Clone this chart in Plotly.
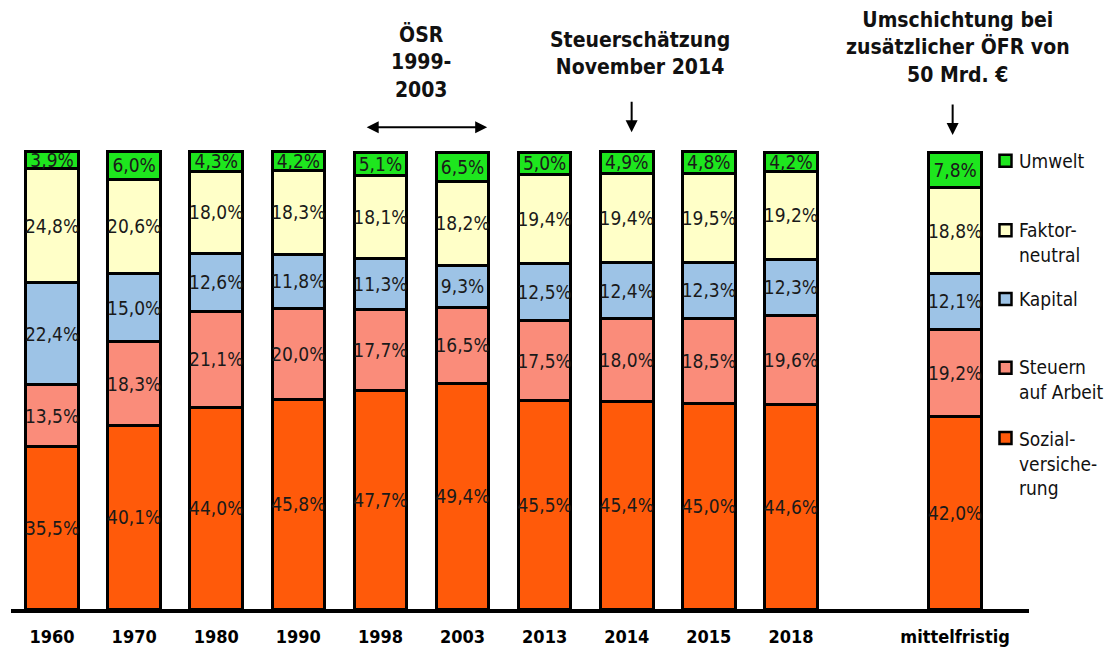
import plotly.graph_objects as go

categories = ["1960", "1970", "1980", "1990", "1998", "2003", "2013", "2014", "2015", "2018", "mittelfristig"]
x_pos = [0, 1, 2, 3, 4, 5, 6, 7, 8, 9, 11]

sozial = [35.5, 40.1, 44.0, 45.8, 47.7, 49.4, 45.5, 45.4, 45.0, 44.6, 42.0]
arbeit = [13.5, 18.3, 21.1, 20.0, 17.7, 16.5, 17.5, 18.0, 18.5, 19.6, 19.2]
kapital = [22.4, 15.0, 12.6, 11.8, 11.3, 9.3, 12.5, 12.4, 12.3, 12.3, 12.1]
faktor = [24.8, 20.6, 18.0, 18.3, 18.1, 18.2, 19.4, 19.4, 19.5, 19.2, 18.8]
umwelt = [3.9, 6.0, 4.3, 4.2, 5.1, 6.5, 5.0, 4.9, 4.8, 4.2, 7.8]

series_names = ["Sozial-<br>versiche-<br>rung", "Steuern<br>auf Arbeit", "Kapital", "Faktor-<br>neutral", "Umwelt"]
series_values = [sozial, arbeit, kapital, faktor, umwelt]
series_colors = ["#ff5a0a", "#fa8c7a", "#9dc3e6", "#ffffc8", "#1ee61e"]

FONT = "DejaVu Sans Condensed, DejaVu Sans, sans-serif"

def fmt(v):
    return f"{v:.1f}".replace(".", ",") + "%"

fig = go.Figure()
for name, vals, col in zip(series_names, series_values, series_colors):
    fig.add_trace(go.Bar(
        x=x_pos, y=vals, name=name,
        marker=dict(color=col, line=dict(color="black", width=3)),
        width=0.64,
        text=[fmt(v) for v in vals],
        textposition="inside",
        insidetextanchor="middle",
        textangle=0,
        constraintext="none",
        textfont=dict(family=FONT, size=19, color="#1a1a1a"),
        showlegend=False,
    ))

fig.update_layout(
    barmode="stack",
    width=1117, height=648,
    margin=dict(l=3, r=96, t=139, b=47),
    paper_bgcolor="white", plot_bgcolor="white",
    xaxis=dict(
        range=[-0.5, 11.9],
        tickmode="array", tickvals=x_pos, ticktext=categories,
        showline=True, linecolor="black", linewidth=4,
        showgrid=False, zeroline=False, ticks="",
        ticklabelstandoff=8,
        tickfont=dict(family=FONT, size=18, color="black", weight="bold"),
    ),
    yaxis=dict(range=[0, 101], visible=False, showgrid=False, zeroline=False),
    font=dict(family=FONT),
)

# Top annotations
top_font = dict(family=FONT, size=21, color="#111111", weight="bold")
fig.add_annotation(x=4.49, xref="x", y=1.184, yref="paper",
                   text="ÖSR<br>1999-<br>2003", showarrow=False, font=top_font,
                   yanchor="middle")
fig.add_annotation(x=7.16, xref="x", y=1.203, yref="paper", text="Steuerschätzung<br>November 2014",
                   showarrow=False, font=top_font, yanchor="middle")
fig.add_annotation(x=11.04, xref="x", y=1.216, yref="paper",
                   text="Umschichtung bei<br>zusätzlicher ÖFR von<br>50 Mrd. €",
                   showarrow=False, font=top_font, yanchor="middle")

# Arrows
fig.add_annotation(x=5.30, xref="x", y=1.043, yref="paper", ax=-122, ay=0,
                   text="", showarrow=True, arrowhead=2, arrowsize=1.2, arrowwidth=2,
                   arrowside="end+start", arrowcolor="black")
fig.add_annotation(x=7.06, xref="x", y=1.032, yref="paper", ax=0, ay=-32,
                   text="", showarrow=True, arrowhead=2, arrowsize=1.2, arrowwidth=2,
                   arrowcolor="black")
fig.add_annotation(x=10.97, xref="x", y=1.026, yref="paper", ax=0, ay=-32,
                   text="", showarrow=True, arrowhead=2, arrowsize=1.2, arrowwidth=2,
                   arrowcolor="black")

# Custom legend
legend_text_y = [0.316, 0.496, 0.671, 0.793, 0.970]
legend_square_y = [0.370, 0.522, 0.671, 0.820, 0.970]
sq_w, sq_h = 0.0118, 0.026
for name, col, ty, sy in zip(series_names, series_colors, legend_text_y, legend_square_y):
    fig.add_shape(type="rect", xref="paper", yref="paper",
                  x0=0.9710, x1=0.9710 + sq_w, y0=sy - sq_h / 2, y1=sy + sq_h / 2,
                  fillcolor=col, line=dict(color="black", width=2.5))
    fig.add_annotation(x=0.9882, xref="paper", y=ty, yref="paper", text=name,
                       showarrow=False, xanchor="left", yanchor="middle", align="left",
                       font=dict(family=FONT, size=19, color="#111111"))

fig.write_html("out.html")
